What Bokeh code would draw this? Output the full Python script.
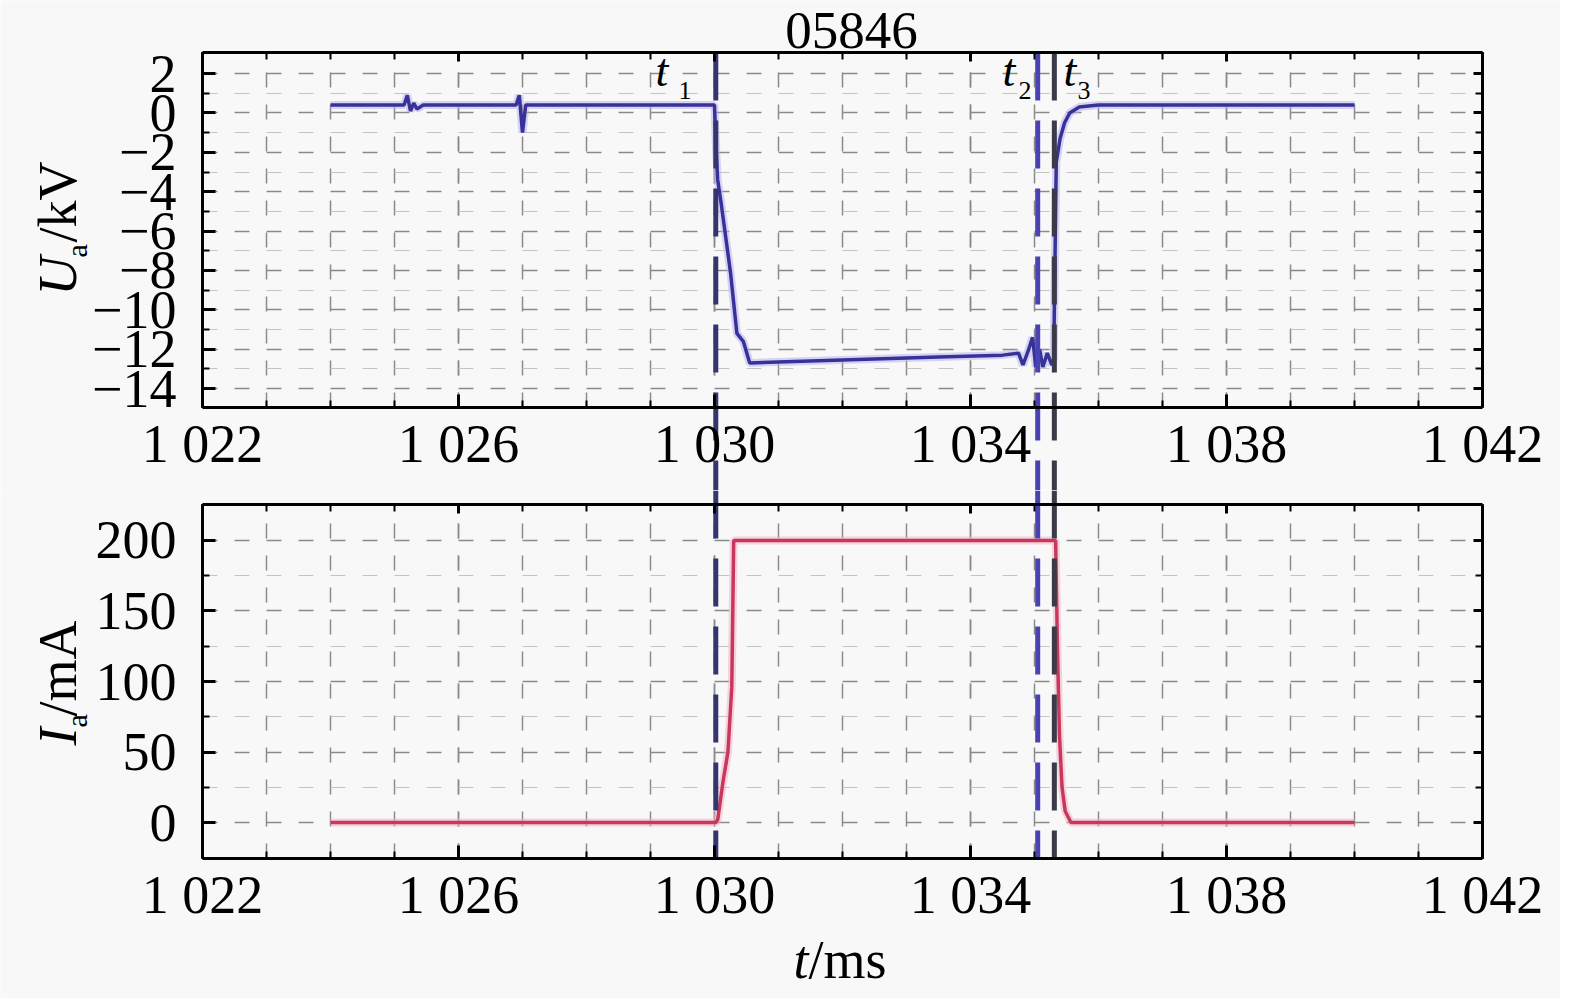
from bokeh.plotting import figure
from bokeh.layouts import column
from bokeh.models import FixedTicker, LinearAxis, Label, Range1d, Grid
from bokeh.embed import file_html
from bokeh.resources import INLINE

FONT = "Liberation Serif"
BG = "#f8f8f8"

# ---------------- data ----------------
title_text = "05846"

u_t = [1024.0, 1025.15, 1025.2, 1025.25, 1025.3, 1025.35, 1025.45, 1026.9, 1026.95, 1027.0, 1027.05,
       1030.0, 1030.02, 1030.05, 1030.1, 1030.25, 1030.35, 1030.45, 1030.55, 1031.5, 1032.5, 1033.5,
       1034.5, 1034.75, 1034.82, 1034.9, 1034.97, 1035.02, 1035.08, 1035.13, 1035.2, 1035.27, 1035.3,
       1035.34, 1035.4, 1035.47, 1035.55, 1035.7, 1036.0, 1038.0, 1040.0]
u_v = [0.4, 0.4, 0.9, 0.1, 0.5, 0.2, 0.4, 0.4, 0.9, -1.0, 0.4,
       0.4, -1.5, -3.4, -4.5, -8.1, -11.2, -11.6, -12.7, -12.6, -12.5, -12.4,
       -12.3, -12.2, -12.8, -12.1, -11.4, -12.9, -12.0, -12.9, -12.2, -12.8, -12.5,
       -2.5, -1.3, -0.5, 0.0, 0.3, 0.4, 0.4, 0.4]

i_t = [1024.0, 1030.02, 1030.05, 1030.13, 1030.21, 1030.27, 1030.3, 1035.33, 1035.36, 1035.39,
       1035.43, 1035.48, 1035.57, 1040.0]
i_v = [0, 0, 2, 28, 50, 96, 200, 200, 120, 62, 25, 8, 0, 0]

t_marks = [1030.02, 1035.05, 1035.31]
t_subs = ["1", "2", "3"]
t_colors = ["#35356e", "#4a42b0", "#3a3a48"]

x_ticks = [1022, 1026, 1030, 1034, 1038, 1042]
x_tick_labels = ["1 022", "1 026", "1 030", "1 034", "1 038", "1 042"]
x_minor = list(range(1022, 1043))

u_ticks = [2, 0, -2, -4, -6, -8, -10, -12, -14]
u_tick_labels = ["2", "0", "\u22122", "\u22124", "\u22126", "\u22128", "\u221210", "\u221212", "\u221214"]
u_minor = [1, -1, -3, -5, -7, -9, -11, -13]

i_ticks = [0, 50, 100, 150, 200]
i_tick_labels = ["0", "50", "100", "150", "200"]
i_minor = [25, 75, 125, 175]

X_LIM = (1022, 1042)
U_LIM = (-14.96, 3.07)
I_LIM = (-25.5, 225.5)

# ---------------- layout (pixels) ----------------
W = 1560
PX_L, PX_R = 202, 1482
H1 = 490                       # top canvas: page y 0..490
P1_TOP, P1_BOT = 52, 407       # top panel box
H2 = 508                       # bottom canvas: page y 490..998
P2_TOP, P2_BOT = 504, 858      # bottom panel box (page coords)
BASE_SHIFT = 0.38              # label anchor -> glyph baseline correction (em)

SX = (PX_R - PX_L) / (X_LIM[1] - X_LIM[0])
SU = (P1_BOT - P1_TOP) / (U_LIM[1] - U_LIM[0])
SI = (P2_BOT - P2_TOP) / (I_LIM[1] - I_LIM[0])


def px2x(px):
    return X_LIM[0] + (px - PX_L) / SX


def py2u(py):
    return U_LIM[1] - (py - P1_TOP) / SU


def py2i(py):
    return I_LIM[1] - (py - P2_TOP) / SI


x_range_1 = Range1d(px2x(0), px2x(W))
x_range_2 = Range1d(px2x(0), px2x(W))
u_range = Range1d(py2u(H1), py2u(0))
i_range = Range1d(py2i(H1 + H2), py2i(H1))

HAS_CROSS = "cross_bounds" in Grid.properties()


def make_fig(height, xr, yr):
    p = figure(width=W, height=height, x_range=xr, y_range=yr,
               output_backend="svg", toolbar_location=None,
               x_axis_location=None, y_axis_location=None,
               min_border=0, min_border_left=0, min_border_right=0,
               min_border_top=0, min_border_bottom=0,
               background_fill_color=BG, border_fill_color=BG,
               outline_line_color=None)
    p.xgrid.visible = False
    p.ygrid.visible = False
    return p


def axis_style(**kw):
    base = dict(major_label_text_font=FONT, major_label_text_font_size="54px",
                major_label_text_color="black",
                major_tick_in=13, major_tick_out=0, minor_tick_in=7, minor_tick_out=0,
                major_tick_line_width=3, minor_tick_line_width=2,
                axis_line_width=3, axis_line_color="black")
    base.update(kw)
    return base


def add_frame(p, ylim, yticks, ylabels, yminor):
    xt = FixedTicker(ticks=x_ticks, minor_ticks=x_minor)
    yt = FixedTicker(ticks=yticks, minor_ticks=yminor)
    gx = dict(grid_line_color="#8a8a8a", grid_line_width=1.5, grid_line_dash="15 17",
              minor_grid_line_color="#8a8a8a", minor_grid_line_width=1.5,
              minor_grid_line_dash="15 17")
    gy = dict(grid_line_color="#8a8a8a", grid_line_width=1.5, grid_line_dash="15 17",
              minor_grid_line_color="#c4c4c4", minor_grid_line_width=1.2,
              minor_grid_line_dash="15 17")
    if HAS_CROSS:
        p.add_layout(Grid(dimension=0, ticker=xt, bounds=X_LIM, cross_bounds=ylim, **gx))
        p.add_layout(Grid(dimension=1, ticker=yt, bounds=ylim, cross_bounds=X_LIM, **gy))
    else:
        xs = [float(v) for v in x_minor]
        p.segment(x0=xs, y0=[ylim[0]] * len(xs), x1=xs, y1=[ylim[1]] * len(xs),
                  line_color="#8a8a8a", line_width=1.5, line_dash="15 17")
        p.segment(x0=[X_LIM[0]] * len(yticks), y0=yticks, x1=[X_LIM[1]] * len(yticks), y1=yticks,
                  line_color="#8a8a8a", line_width=1.5, line_dash="15 17")
        p.segment(x0=[X_LIM[0]] * len(yminor), y0=yminor, x1=[X_LIM[1]] * len(yminor), y1=yminor,
                  line_color="#c4c4c4", line_width=1.2, line_dash="15 17")
    left = LinearAxis(ticker=yt, fixed_location=X_LIM[0], bounds=ylim,
                      major_label_overrides=dict(zip(yticks, ylabels)),
                      **axis_style(major_label_standoff=26))
    bottom = LinearAxis(ticker=xt, fixed_location=ylim[0], bounds=X_LIM,
                        major_label_overrides=dict(zip(x_ticks, x_tick_labels)),
                        **axis_style(major_label_standoff=6))
    top = LinearAxis(ticker=xt, fixed_location=ylim[1], bounds=X_LIM,
                     **axis_style(major_label_text_color=None, major_tick_in=9))
    right = LinearAxis(ticker=yt, fixed_location=X_LIM[1], bounds=ylim,
                       **axis_style(major_label_text_color=None, major_tick_in=9))
    p.add_layout(left, "left")
    p.add_layout(bottom, "below")
    p.add_layout(top, "above")
    p.add_layout(right, "right")


def txt(p, x, y, text, size, italic=False, align="left", angle=0):
    p.add_layout(Label(x=x, y=y, text=text, text_font=FONT, text_font_size="%dpx" % size,
                       text_font_style="italic" if italic else "normal",
                       text_color="black", text_align=align, text_baseline="alphabetic",
                       angle=angle, angle_units="deg"))


def htxt(p, py2y, px, py_base, text, size, italic=False, align="left"):
    # horizontal text, glyph baseline at page y py_base
    txt(p, px2x(px), py2y(py_base - BASE_SHIFT * size), text, size, italic, align)


def vtxt(p, py2y, px_base, py_start, text, size, italic=False):
    # text rotated 90 deg, glyph baseline at page x px_base, starting at page y py_start
    txt(p, px2x(px_base - BASE_SHIFT * size), py2y(py_start), text, size, italic, angle=90)


# ---------------- top: voltage ----------------
p1 = make_fig(H1, x_range_1, u_range)
add_frame(p1, U_LIM, u_ticks, u_tick_labels, u_minor)
p1.line(u_t, u_v, line_color="#b8b3ee", line_width=8, line_alpha=0.55)
p1.line(u_t, u_v, line_color="#36329a", line_width=3.5)
p1.segment(x0=t_marks, y0=[U_LIM[1]] * 3, x1=t_marks, y1=[u_range.start] * 3,
           line_color=t_colors, line_width=5, line_dash="48 20")

for tx, sx, s in zip([655, 1002, 1063], [678, 1018, 1077], t_subs):
    htxt(p1, py2u, tx, 87, "t", 46, italic=True)
    htxt(p1, py2u, sx, 100, s, 26)

htxt(p1, py2u, 851, 50, title_text, 53, align="center")

vtxt(p1, py2u, 78, 295, "U", 54, italic=True)
vtxt(p1, py2u, 87, 257, "a", 30)
vtxt(p1, py2u, 78, 242, "/kV", 54)

# ---------------- bottom: current ----------------
p2 = make_fig(H2, x_range_2, i_range)
add_frame(p2, I_LIM, i_ticks, i_tick_labels, i_minor)
p2.line(i_t, i_v, line_color="#f2b3c4", line_width=8, line_alpha=0.55)
p2.line(i_t, i_v, line_color="#c8385c", line_width=3.5)
p2.segment(x0=t_marks, y0=[i_range.end] * 3, x1=t_marks, y1=[I_LIM[0]] * 3,
           line_color=t_colors, line_width=5, line_dash="48 20")

vtxt(p2, py2i, 78, 745, "I", 54, italic=True)
vtxt(p2, py2i, 87, 727, "a", 30)
vtxt(p2, py2i, 78, 716, "/mA", 54)

htxt(p2, py2i, 793, 980, "t", 54, italic=True)
htxt(p2, py2i, 808, 980, "/ms", 54)

p = column(p1, p2, spacing=0)
open("out.html", "w").write(file_html(p, INLINE))
